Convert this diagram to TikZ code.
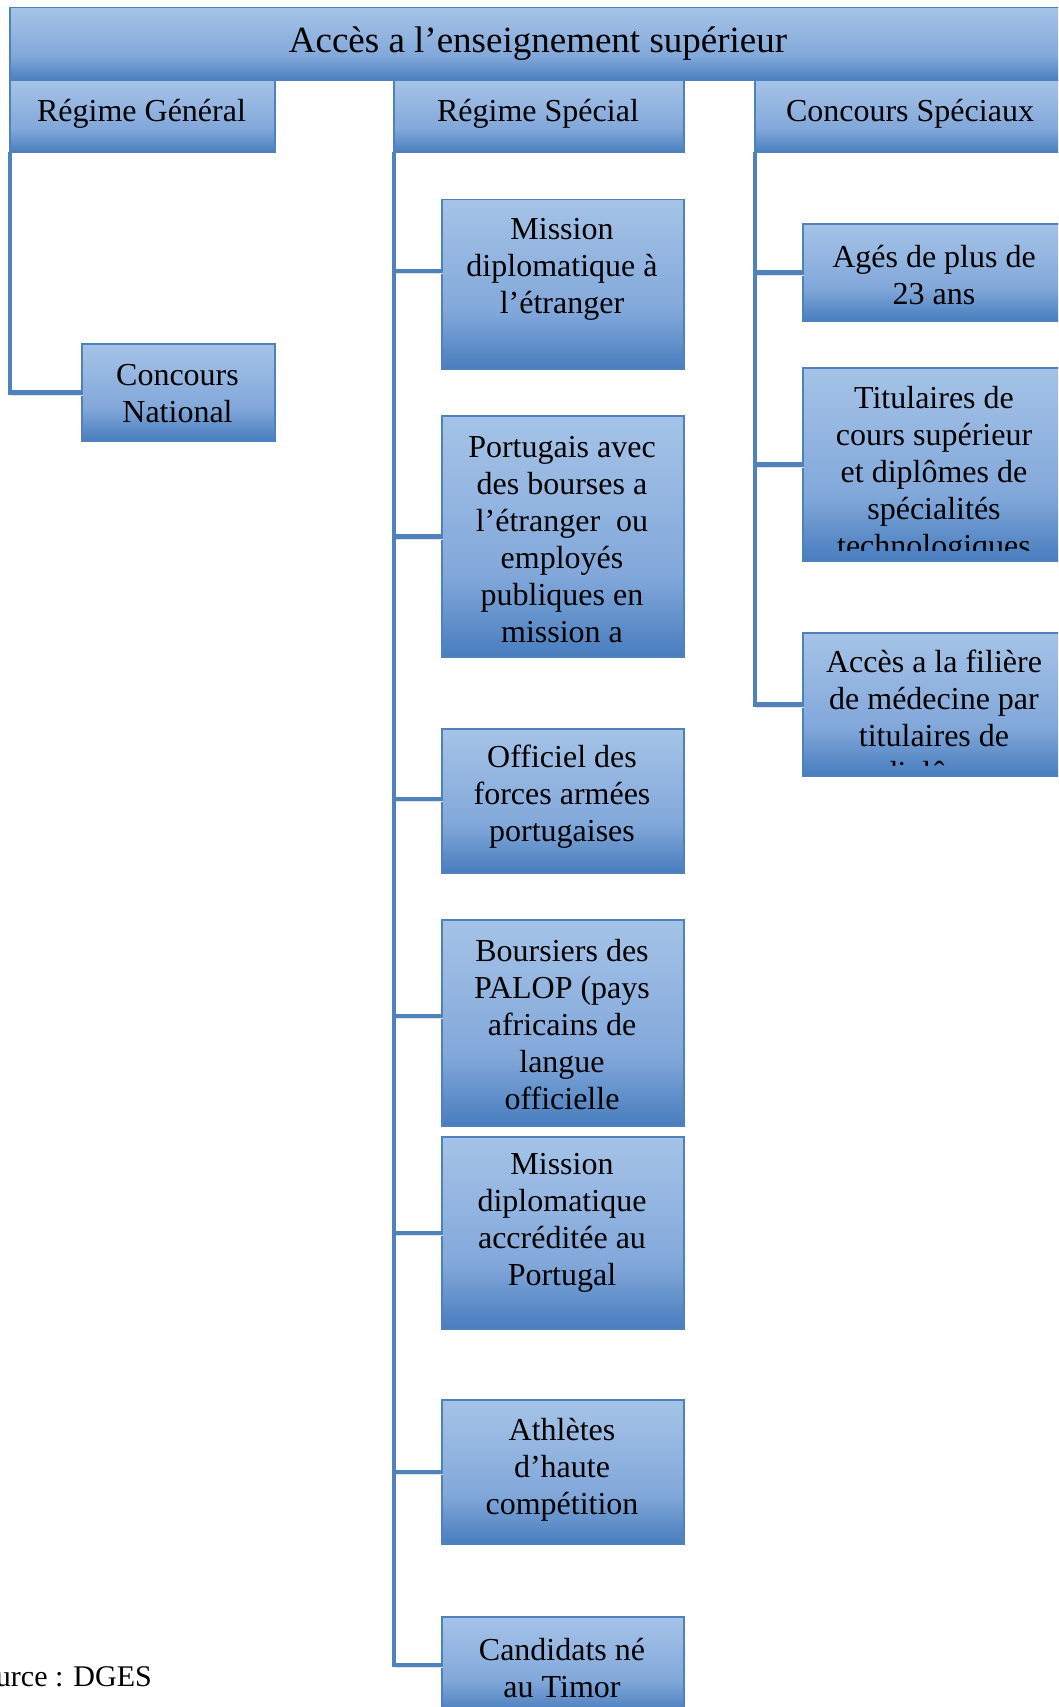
\documentclass[tikz,border=0pt]{standalone}
\usepackage{fontspec}
\setmainfont{Liberation Serif}
\usepackage{xcolor}
\definecolor{boxtop}{RGB}{165,195,231}
\definecolor{boxmid}{RGB}{130,168,218}
\definecolor{boxbot}{RGB}{72,125,190}
\definecolor{boxline}{RGB}{79,129,189}
\pgfdeclareverticalshading{boxfade}{100bp}{color(0bp)=(boxbot); color(25bp)=(boxbot); color(42bp)=(boxmid); color(75bp)=(boxtop); color(100bp)=(boxtop)}
\tikzset{
	box/.style={draw=boxline, line width=1.5pt, shade, shading=boxfade, inner sep=0pt, anchor=north west},
	boxtext/.style={align=center, inner sep=0pt, font=\fontsize{32}{37}\selectfont},
	link/.style={draw=boxline, line width=4.5pt,
		preaction={draw=black!12, transform canvas={shift={(1.5pt,-2.5pt)}}}},
}

\begin{document}
\begin{tikzpicture}[x=1pt,y=-1pt]
\useasboundingbox (0,0) rectangle (1058,1707);
\clip (0,0) rectangle (1058,1707);

\node[box, minimum width=1060, minimum height=73] (acces) at (9,7) {};
\node[boxtext, font=\fontsize{37}{42}\selectfont] (acces-t) at (538,44) {Accès a l’enseignement supérieur};

\node[box, minimum width=265, minimum height=72] (rg) at (9,80) {};
\node[boxtext] (rg-t) at (141.5,114) {Régime Général};
\node[box, minimum width=290, minimum height=72] (rs) at (393,80) {};
\node[boxtext] (rs-t) at (538,114) {Régime Spécial};
\node[box, minimum width=312, minimum height=72] (cs) at (754,80) {};
\node[boxtext] (cs-t) at (910,114) {Concours Spéciaux};

\coordinate (rg-trunk) at (10,152);
\coordinate (rs-trunk) at (394,152);
\coordinate (cs-trunk) at (755,152);

% régime général
\node[box, minimum width=193, minimum height=97] (cn) at (81,343) {};
\node[boxtext] (cn-t) at (177.5,394) {Concours\\National};
\draw[link] (rg-trunk) |- (cn.west);

% régime spécial
\node[box, minimum width=242, minimum height=169] (m1) at (441,199) {};
\node[boxtext] (m1-t) at (562,269) {Mission\\diplomatique à\\l’étranger};
\node[box, minimum width=242, minimum height=241] (m2) at (441,415) {};
\node[boxtext] (m2-t) at (562,540) {Portugais avec\\des bourses a\\l’étranger~ ou\\employés\\publiques en\\mission a};
\node[box, minimum width=242, minimum height=144] (m3) at (441,728) {};
\node[boxtext] (m3-t) at (562,797) {Officiel des\\forces armées\\portugaises};
\node[box, minimum width=242, minimum height=206] (m4) at (441,919) {};
\node[boxtext] (m4-t) at (562,1025) {Boursiers des\\PALOP (pays\\africains de\\langue\\officielle};
\node[box, minimum width=242, minimum height=192] (m5) at (441,1136) {};
\node[boxtext] (m5-t) at (562,1223) {Mission\\diplomatique\\accréditée au\\Portugal};
\node[box, minimum width=242, minimum height=144] (m6) at (441,1399) {};
\node[boxtext] (m6-t) at (562,1470) {Athlètes\\d’haute\\compétition};
\node[box, minimum width=242, minimum height=96] (m7) at (441,1616) {};
\node[boxtext] (m7-t) at (562,1668) {Candidats né\\au Timor};

\draw[link] (rs-trunk) |- ([yshift=13.5pt]m1.west);
\draw[link] (rs-trunk) |- (m2.west);
\draw[link] (rs-trunk) |- ([yshift=2pt]m3.west);
\draw[link] (rs-trunk) |- ([yshift=7pt]m4.west);
\draw[link] (rs-trunk) |- (m5.west);
\draw[link] (rs-trunk) |- (m6.west);
\draw[link] (rs-trunk) |- (m7.west);

% concours spéciaux
\node[box, minimum width=264, minimum height=97] (c1) at (802,223) {};
\node[boxtext] (c1-t) at (934,275) {Agés de plus de\\23 ans};
\node[box, minimum width=264, minimum height=193] (c2) at (802,367) {};
\node[box, minimum width=264, minimum height=143] (c3) at (802,632) {};
\begin{scope}
\clip (802,367) rectangle (1066,550);
\node[boxtext] (c2-t) at (934,475) {Titulaires de\\cours supérieur\\et diplômes de\\spécialités\\technologiques};
\end{scope}
\begin{scope}
\clip (802,632) rectangle (1066,765);
\node[boxtext] (c3-t) at (934,720) {Accès a la filière\\de médecine par\\titulaires de\\diplôme};
\end{scope}

\draw[link] (cs-trunk) |- (c1.west);
\draw[link] (cs-trunk) |- (c2.west);
\draw[link] (cs-trunk) |- (c3.west);

\node[anchor=east, inner sep=0pt, font=\fontsize{30}{36}\selectfont] (src) at (152,1677) {Source : DGES};
\end{tikzpicture}
\end{document}
